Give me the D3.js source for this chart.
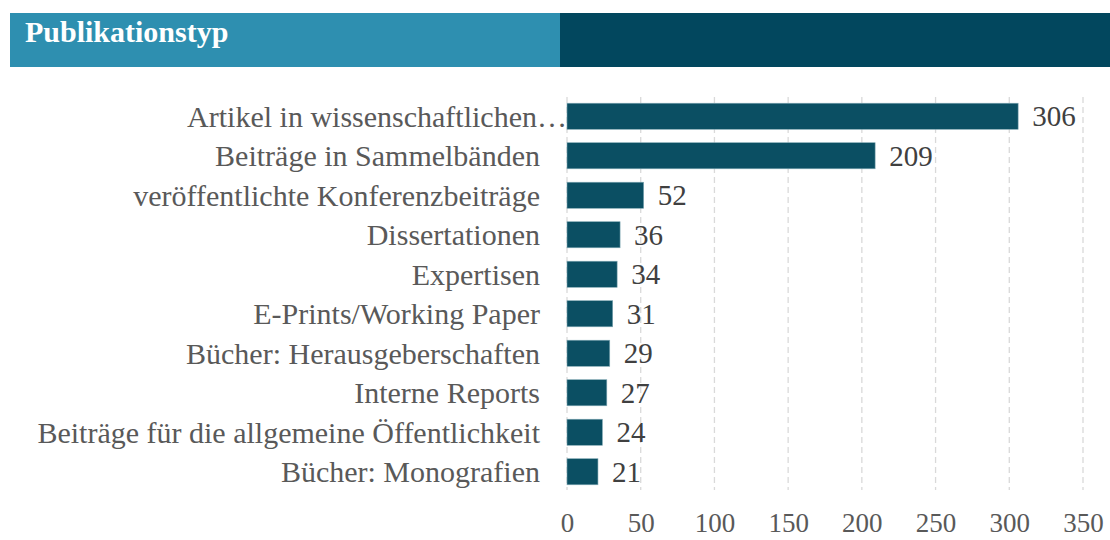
<!DOCTYPE html>
<html lang="en">
<head>
<meta charset="UTF-8">
<title>Publikationstyp</title>
<script src="https://d3js.org/d3.v7.min.js"></script>
<style>
    body {margin: 0; background: #fff}
    text {font-family: 'Liberation Serif', 'DejaVu Serif', serif}
    .grid line {stroke: #d9d9d9; stroke-width: 1.3; stroke-dasharray: 6 4}
    .cat {fill: #595959; font-size: 30px}
    .val {fill: #404040; font-size: 29px}
    .tick text {fill: #595959; font-size: 27px}
</style>
</head>
<body>
<script>
    const width  = 1110;
    const height = 540;

    const categories = [
        "Artikel in wissenschaftlichen…",
        "Beiträge in Sammelbänden",
        "veröffentlichte Konferenzbeiträge",
        "Dissertationen",
        "Expertisen",
        "E-Prints/Working Paper",
        "Bücher: Herausgeberschaften ",
        "Interne Reports",
        "Beiträge für die allgemeine Öffentlichkeit",
        "Bücher: Monografien"
    ];
    const counts = [306, 209, 52, 36, 34, 31, 29, 27, 24, 21];
    const ticks  = [0, 50, 100, 150, 200, 250, 300, 350];

    const svg = d3.select("body").append("svg")
            .attr("width", width).attr("height", height);

    // header band
    svg.append("rect").attr("x", 10).attr("y", 13)
            .attr("width", 550).attr("height", 54).attr("fill", "#2e8fb0");
    svg.append("rect").attr("x", 560).attr("y", 13)
            .attr("width", 550).attr("height", 54).attr("fill", "#02475e");
    svg.append("text").attr("x", 25).attr("y", 42)
            .attr("fill", "#fff")
            .style("font-size", "30px").style("font-weight", "bold")
            .text("Publikationstyp");

    const x = d3.scaleLinear().domain([0, 350]).range([567, 1083]);
    const y = d3.scaleBand().domain(categories)
            .range([96.5, 491.5]).paddingInner(0.34).paddingOuter(0.17);

    // dashed vertical grid
    svg.append("g").attr("class", "grid")
        .selectAll("line").data(ticks).join("line")
        .attr("x1", d => x(d)).attr("x2", d => x(d))
        .attr("y1", 97).attr("y2", 490);

    // bars
    svg.append("g").selectAll("rect")
        .data(counts).join("rect")
        .attr("x", x(0))
        .attr("y", (d, i) => y(categories[i]))
        .attr("width", d => x(d) - x(0))
        .attr("height", y.bandwidth())
        .attr("fill", "#0b4f63")
        .attr("stroke", "#7fa7b3").attr("stroke-width", 0.6);

    // value labels
    svg.append("g").selectAll("text")
        .data(counts).join("text").attr("class", "val")
        .attr("x", d => x(d) + 14)
        .attr("y", (d, i) => y(categories[i]) + y.bandwidth() / 2)
        .attr("dominant-baseline", "central")
        .text(d => d);

    // category labels
    svg.append("g").selectAll("text")
        .data(categories).join("text").attr("class", "cat")
        .attr("x", (d, i) => i === 0 ? 567 : 540)
        .attr("y", d => y(d) + y.bandwidth() / 2)
        .attr("text-anchor", "end")
        .attr("dominant-baseline", "central")
        .text(d => d);

    // bottom axis, labels only
    const axis = d3.axisBottom(x).tickValues(ticks)
            .tickSize(0).tickPadding(0).tickSizeOuter(0);
    svg.append("g").attr("transform", "translate(0,513)").call(axis)
        .call(g => g.select(".domain").remove());
</script>
</body>
</html>
